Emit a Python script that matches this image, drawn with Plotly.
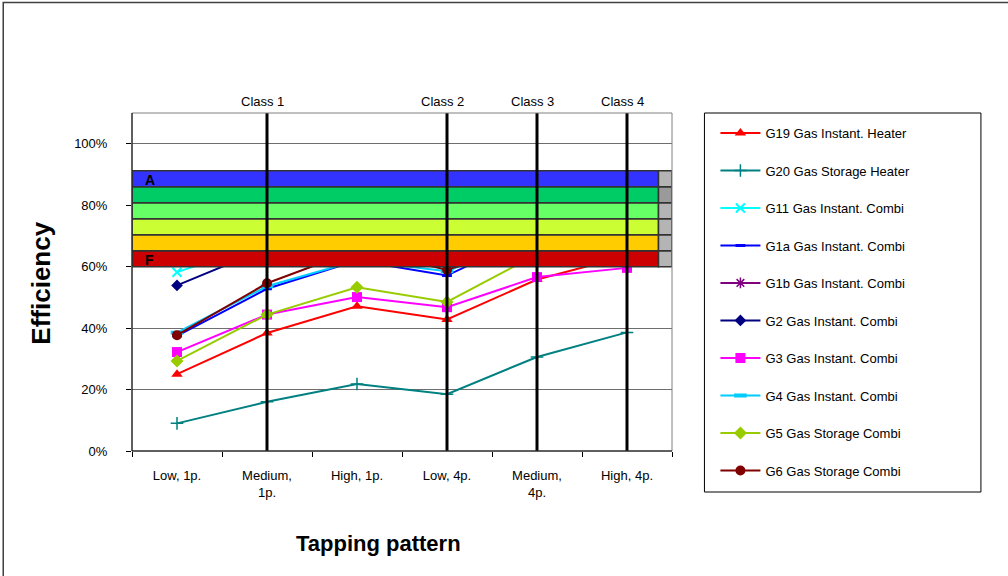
import plotly.graph_objects as go

# ---- data -------------------------------------------------------------
patterns = ["Low, 1p.", "Medium,<br>1p.", "High, 1p.", "Low, 4p.", "Medium,<br>4p.", "High, 4p."]

g19 = [25.0, 38.4, 47.1, 42.8, 55.8, 63.5]
g20 = [9.0, 16.0, 21.8, 18.5, 30.6, 38.6]
g11 = [58.2, 68.0, 75.0, 70.0, 80.0, 84.0]
g1a = [37.5, 52.8, 62.0, 57.1, 71.0, 76.0]
g1b = [66.0, 74.0, 78.0, 72.0, 80.0, 84.0]
g2 = [53.9, 66.0, 74.0, 68.0, 78.0, 82.0]
g3 = [32.2, 44.4, 50.1, 46.8, 56.6, 59.6]
g4 = [38.5, 53.6, 62.0, 58.5, 70.0, 76.0]
g5 = [29.3, 44.4, 53.3, 48.5, 64.0, 70.0]
g6 = [37.7, 54.6, 65.5, 59.0, 68.0, 74.0]

series_names = [
    "G19 Gas Instant. Heater", "G20 Gas Storage Heater", "G11 Gas Instant. Combi",
    "G1a Gas Instant. Combi", "G1b Gas Instant. Combi", "G2 Gas Instant. Combi",
    "G3 Gas Instant. Combi", "G4 Gas Instant. Combi", "G5 Gas Storage Combi",
    "G6 Gas Storage Combi",
]
series_values = [g19, g20, g11, g1a, g1b, g2, g3, g4, g5, g6]

# efficiency label bands (bottom -> top: F ... A)
band_edges = [60.0, 65.2, 70.4, 75.6, 80.8, 86.0, 91.2]
band_colors = ["#CC0000", "#FFCC00", "#CCFF33", "#66FF66", "#00CC66", "#3333FF"]
band_end = 5.35          # where the hatched tail of each band starts

class_labels = ["Class 1", "Class 2", "Class 3", "Class 4"]
class_positions = [1, 3, 4, 5]

y_ticks = [0, 20, 40, 60, 80, 100]

# ---- styles -----------------------------------------------------------
styles = [
    dict(color="#FF0000", symbol="triangle-up", size=10, lw=0),
    dict(color="#008080", symbol="cross-thin", size=9, lw=1.5),
    dict(color="#00FFFF", symbol="x-thin", size=9, lw=2),
    dict(color="#0000FF", symbol="line-ew", size=7, lw=3),
    dict(color="#800080", symbol="asterisk", size=9, lw=1.5),
    dict(color="#000080", symbol="diamond", size=9, lw=0),
    dict(color="#FF00FF", symbol="square", size=10, lw=0),
    dict(color="#00CCFF", symbol="line-ew", size=9, lw=4),
    dict(color="#99CC00", symbol="diamond", size=10, lw=0),
    dict(color="#800000", symbol="circle", size=10, lw=0),
]

W, H = 1008, 576
ML, MR, MT, MB = 131.5, 335.5, 113, 125
PW, PH = W - ML - MR, H - MT - MB
FONT = "Liberation Sans, Arial, sans-serif"


def px_x(p):
    return (p - ML) / PW


def px_y(p):
    return (H - MB - p) / PH


fig = go.Figure()

for i, (name, vals) in enumerate(zip(series_names, series_values)):
    st = styles[i]
    fig.add_trace(go.Scatter(
        x=list(range(len(patterns))), y=vals, name=name, mode="lines+markers",
        legendgroup=f"g{i}",
        line=dict(color=st["color"], width=2),
        marker=dict(symbol=st["symbol"], size=st["size"], color=st["color"],
                    line=dict(color=st["color"], width=st["lw"])),
    ))

shapes = []
# coloured bands drawn over the curves
for lo, hi, col in zip(band_edges[:-1], band_edges[1:], band_colors):
    shapes.append(dict(type="rect", xref="x", yref="y", x0=-0.5, x1=band_end,
                       y0=lo, y1=hi, fillcolor=col, layer="above",
                       line=dict(color="#333333", width=1.5)))
    tail = "#9a9a9a" if col == "#00CC66" else "#b4b4b4"
    shapes.append(dict(type="rect", xref="x", yref="y", x0=band_end, x1=5.5,
                       y0=lo, y1=hi, fillcolor=tail, layer="above",
                       line=dict(color="#333333", width=1.5)))

# class separators
for cx in class_positions:
    shapes.append(dict(type="line", xref="x", yref="y domain", x0=cx, x1=cx,
                       y0=0, y1=1, layer="above",
                       line=dict(color="black", width=3)))

# plot area frame
shapes.append(dict(type="rect", xref="x domain", yref="y domain", x0=0, x1=1,
                   y0=0, y1=1, layer="above", line=dict(color="#808080", width=1)))
shapes.append(dict(type="line", xref="x domain", yref="y domain", x0=0, x1=0,
                   y0=0, y1=1, layer="above", line=dict(color="black", width=1)))
shapes.append(dict(type="line", xref="x domain", yref="y domain", x0=0, x1=1,
                   y0=0, y1=0, layer="above", line=dict(color="black", width=1)))

# legend frame
shapes.append(dict(type="rect", xref="paper", yref="paper",
                   x0=px_x(705), x1=px_x(982), y0=px_y(492), y1=px_y(113),
                   line=dict(color="black", width=1)))

# outer chart frame
shapes.append(dict(type="rect", xref="paper", yref="paper",
                   x0=px_x(2.5), x1=px_x(1012), y0=px_y(580), y1=px_y(2.5),
                   line=dict(color="#404040", width=1.5)))

annotations = []
for lbl, cx in zip(class_labels, class_positions):
    annotations.append(dict(x=cx, y=1, xref="x", yref="y domain", text=lbl,
                            showarrow=False, xanchor="center", yanchor="bottom",
                            xshift=-5, yshift=2, font=dict(size=13, color="black")))

annotations.append(dict(x=-0.5, y=band_edges[-1], xref="x", yref="y", text="<b>A</b>",
                        showarrow=False, xanchor="left", yanchor="top", xshift=11,
                        yshift=1, font=dict(size=14, color="black")))
annotations.append(dict(x=-0.5, y=band_edges[1], xref="x", yref="y", text="<b>F</b>",
                        showarrow=False, xanchor="left", yanchor="top", xshift=11,
                        yshift=1, font=dict(size=14, color="black")))

annotations.append(dict(x=px_x(40), y=px_y(283), xref="paper", yref="paper",
                        text="<b>Efficiency</b>", textangle=-90, showarrow=False,
                        xanchor="center", yanchor="middle",
                        font=dict(size=26, color="black")))
annotations.append(dict(x=px_x(378), y=px_y(543), xref="paper", yref="paper",
                        text="<b>Tapping pattern</b>", showarrow=False,
                        xanchor="center", yanchor="middle",
                        font=dict(size=22, color="black")))

fig.update_layout(
    width=W, height=H,
    margin=dict(l=ML, r=MR, t=MT, b=MB, pad=0),
    paper_bgcolor="white", plot_bgcolor="white",
    font=dict(family=FONT, size=13, color="black"),
    shapes=shapes, annotations=annotations,
    showlegend=True,
    legend=dict(x=px_x(716), y=px_y(118), xanchor="left", yanchor="top",
                bgcolor="rgba(0,0,0,0)", borderwidth=0, itemwidth=40,
                tracegroupgap=17.6, maxheight=520,
                font=dict(size=13, family=FONT)),
    xaxis=dict(
        type="category", range=[-0.5, 5.5],
        tickmode="array", tickvals=list(range(len(patterns))), ticktext=patterns,
        tickson="boundaries", ticks="outside", ticklen=5, tickcolor="black",
        showgrid=False, zeroline=False, showline=False,
        ticklabelstandoff=15, tickfont=dict(size=13),
    ),
    yaxis=dict(
        range=[0, 110], tickmode="array", tickvals=y_ticks,
        ticktext=[f"{v}%" for v in y_ticks],
        ticks="outside", ticklen=5, tickcolor="black",
        showgrid=True, gridcolor="#6e6e6e", gridwidth=1,
        zeroline=False, showline=False, ticklabelstandoff=16,
        tickfont=dict(size=13),
    ),
)

fig.write_html("out.html")
